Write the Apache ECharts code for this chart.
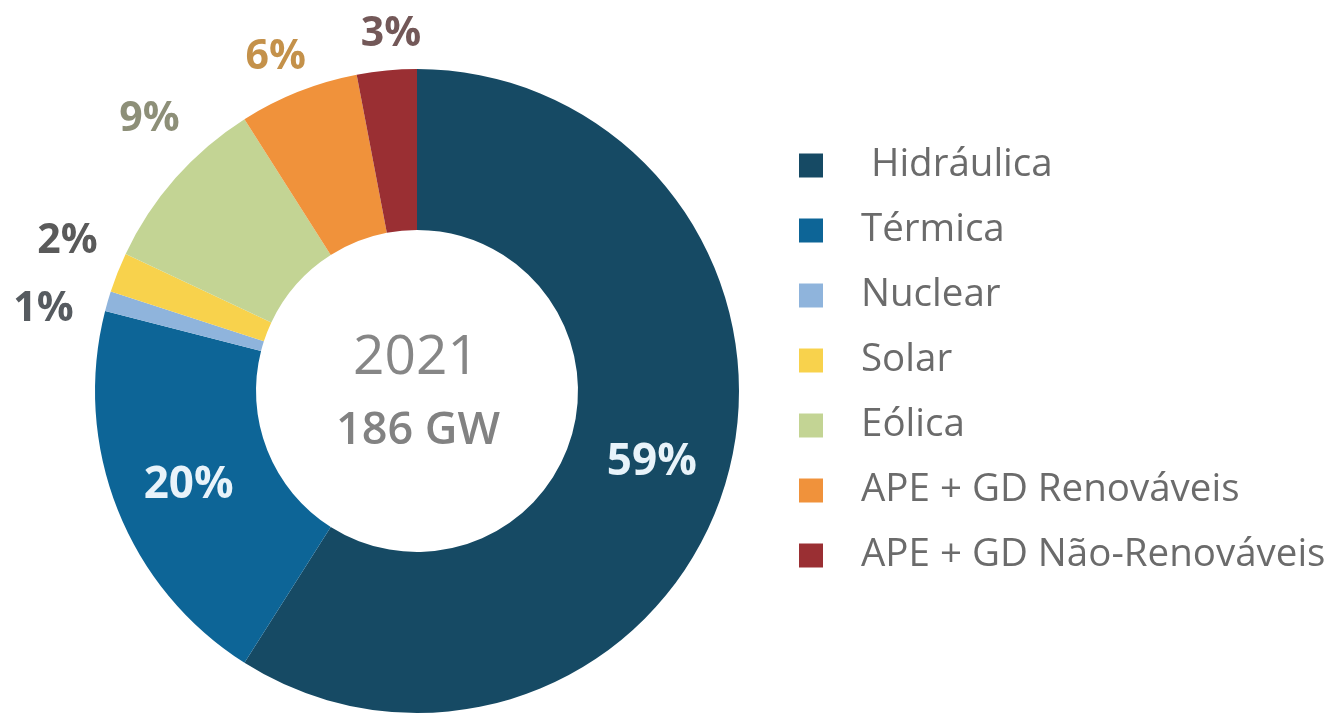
<!DOCTYPE html>
<html>
<head>
<meta charset="utf-8">
<script src="https://cdn.jsdelivr.net/npm/echarts@6/dist/echarts.min.js"></script>
<style>
  html, body { margin: 0; padding: 0; background: #ffffff; }
  #chart { width: 1332px; height: 713px; }
</style>
</head>
<body>
<div id="chart"></div>
<script>
// ---- data ----
const categories = ['Hidráulica', 'Térmica', 'Nuclear', 'Solar', 'Eólica', 'APE + GD Renováveis', 'APE + GD Não-Renováveis'];
const shares = [59, 20, 1, 2, 9, 6, 3];
const centerYear = '2021';
const centerTotal = '186 GW';

// ---- style ----
const sliceColors = ['#164a64', '#0d6597', '#8fb4dc', '#f8d24c', '#c3d494', '#f0923b', '#9a2f33'];
const labelColors = ['#e8f3fa', '#e8f3fa', '#565b60', '#5a5a5a', '#8d8f78', '#c4914a', '#735858'];
const insideIdx = [0, 1];
const labelNudge = [[0, 3], [-1, 4], [-26, 19], [-13, -16], [4, -32], [-8, 3], [8, 4]];
const FONT = '"Open Sans", sans-serif';

const chart = echarts.init(document.getElementById('chart'), null, { renderer: 'canvas' });

const data = categories.map((name, i) => {
  const inside = insideIdx.indexOf(i) >= 0;
  return {
    name: name,
    value: shares[i],
    itemStyle: { color: sliceColors[i] },
    label: {
      position: inside ? 'inside' : 'outside',
      color: labelColors[i],
      fontSize: inside ? 44 : 41
    }
  };
});

chart.setOption({
  animation: false,
  backgroundColor: '#ffffff',
  legend: {
    orient: 'vertical',
    left: 794,
    top: 141,
    icon: 'rect',
    itemWidth: 24,
    itemHeight: 24,
    itemGap: 26,
    selectedMode: false,
    formatter: function (name) { return name === categories[0] ? ' ' + name : name; },
    textStyle: {
      fontFamily: FONT,
      fontSize: 38.5,
      lineHeight: 36,
      color: '#6b6b6b',
      padding: [0, 0, 0, 33]
    },
    data: categories
  },
  graphic: [
    {
      type: 'text',
      x: 416, y: 358,
      style: { text: centerYear, font: '400 55px ' + FONT, fill: '#868686', align: 'center', verticalAlign: 'middle' }
    },
    {
      type: 'text',
      x: 418, y: 431,
      style: { text: centerTotal, font: '600 45px ' + FONT, fill: '#828282', align: 'center', verticalAlign: 'middle' }
    }
  ],
  series: [{
    type: 'pie',
    center: [417, 391],
    radius: [161, 322],
    startAngle: 90,
    clockwise: true,
    avoidLabelOverlap: false,
    silent: true,
    label: {
      show: true,
      formatter: '{c}%',
      fontFamily: FONT,
      fontWeight: 'bold',
      distanceToLabelLine: 0
    },
    labelLine: { show: false, length: 40, length2: 0 },
    labelLayout: function (p) {
      const n = labelNudge[p.dataIndex];
      return { align: 'center', verticalAlign: 'middle', dx: n[0], dy: n[1] };
    },
    emphasis: { disabled: true },
    data: data
  }]
});
</script>
</body>
</html>
